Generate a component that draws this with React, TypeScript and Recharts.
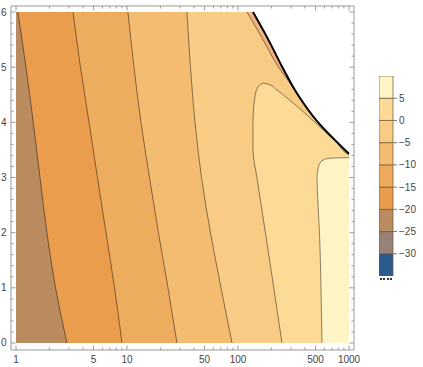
import React from 'react';
import { ComposedChart, Area, Line, Bar, XAxis, YAxis } from 'recharts';

// contour lines read as x(y), from the top (y = 6) to the bottom (y = 0)
const GRID_Y = [6, 5, 4, 3, 2, 1, 0];
const C_M20 = [1.04, 1.23, 1.43, 1.645, 1.9, 2.27, 2.88];
const C_M15 = [3.26, 3.81, 4.55, 5.42, 6.47, 7.72, 9.02];
const C_M10 = [10.2, 11.56, 13.37, 15.95, 19.2, 23.4, 28.2];
const C_M5 = [34.7, 37.3, 41.0, 46.9, 56.5, 70.3, 88.3];

// the 0 contour: left branch and the branch that runs along the edge
const C0_LEFT_Y = [4.713, 4.686, 4.64, 4.46, 4.0, 3.5, 3.0, 2.0, 1.0, 0];
const C0_LEFT_X = [168, 160, 151, 142, 136.5, 136.5, 148, 176.6, 210, 249];
const C0_RIGHT_Y = [4.713, 4.695, 4.586, 4.35, 4.133, 3.861, 3.625, 3.444, 3.41];
const C0_RIGHT_X = [168, 186, 224.5, 313, 418, 583, 780, 939, 1000];

// the 5 contour (cream patch, lower right)
const C5_Y = [3.36, 3.35, 3.32, 3.25, 3.1, 3.0, 2.5, 2.0, 1.0, 0];
const C5_X = [1000, 680, 590, 545, 520, 515, 526, 542, 559, 571];

// edge of the defined region and the thin contour just inside it
const EDGE_Y = [6, 5.5, 5, 4.5, 4, 3.75, 3.5, 3.43];
const EDGE_X = [136.5, 187.5, 251, 346, 526, 689, 920, 1000];
const INNER_Y = [6, 5.5, 5, 4.75, 4.5, 4, 3.75, 3.5, 3.43];
const INNER_X = [120.5, 168, 231.6, 285, 346, 526, 689, 920, 1000];

const X_LEFT = 1;
const X_RIGHT = 1000;
const X_DOMAIN = [0.9015, 1109];
const Y_DOMAIN = [-0.127, 6.109];

const X_LABELS = [1, 5, 10, 50, 100, 500, 1000];
const X_MINOR = [2, 3, 4, 6, 7, 8, 9, 20, 30, 40, 60, 70, 80, 90, 200, 300, 400, 600, 700, 800, 900];
const X_TICKS = [...X_LABELS, ...X_MINOR].sort((a, b) => a - b);
const Y_TICKS = Array.from({ length: 31 }, (_, i) => i / 5);

// colour bar
const CB_LEVELS = [-35, -30, -25, -20, -15, -10, -5, 0, 5, 10];
const CB_TICKS = [-30, -25, -20, -15, -10, -5, 0, 5];
const CB_COLORS = ['#2b5a8e', '#988177', '#b98b5e', '#e99c4c', '#eeab5e', '#f3bc70', '#f8cc83', '#fddb97', '#fff4c6'];

const BAND = {
  brown: '#b98b5e',
  m20: '#e99d4d',
  m15: '#eeac5f',
  m10: '#f3bc71',
  m5: '#f8cc84',
  p0: '#fddb97',
  p5: '#fff4c6',
  strip: '#f1b27f',
};

const FRAME = '#999';
const LABEL = '#444';
const FONT = '"Liberation Sans", Arial, sans-serif';

const pts = (ys: number[], xs: number[]) => ys.map((y, i) => ({ y, x: xs[i] }));
const fromGrid = (xs: number[]) => pts(GRID_Y, xs);
const withTail = (ys: number[], xs: number[]) => [...pts(ys, xs), { y: 0, x: X_RIGHT }];

const cbRow: Record<string, any> = { name: 'bar' };
CB_COLORS.forEach((_, i) => {
  cbRow[`s${i}`] = [CB_LEVELS[i], CB_LEVELS[i + 1]];
});
const CB_DATA = [cbRow];

const XTick = (props: any) => {
  const { x, y, payload, top } = props;
  const major = X_LABELS.includes(payload.value);
  const len = major ? 4.5 : 2.5;
  const dir = top ? 1 : -1;
  return (
    <g>
      <line x1={x} x2={x} y1={y} y2={y + dir * len} stroke={FRAME} strokeWidth={1} />
      {!top && major && (
        <text x={x} y={y + 12.5} textAnchor="middle" fontSize={10} fontFamily={FONT} fill={LABEL}>
          {payload.value}
        </text>
      )}
    </g>
  );
};

const YTick = (props: any) => {
  const { x, y, payload, right } = props;
  const major = Number.isInteger(payload.value);
  const len = major ? 4.5 : 2.5;
  const dir = right ? -1 : 1;
  return (
    <g>
      <line x1={x} x2={x + dir * len} y1={y} y2={y} stroke={FRAME} strokeWidth={1} />
      {!right && major && (
        <text x={x - 4.5} y={y + 3.5} textAnchor="end" fontSize={10} fontFamily={FONT} fill={LABEL}>
          {payload.value}
        </text>
      )}
    </g>
  );
};

const CbTick = (props: any) => {
  const { x, y, payload } = props;
  const v = payload.value;
  return (
    <g>
      <line x1={x} x2={x + 4} y1={y} y2={y} stroke="#777" strokeWidth={1} />
      <text x={x + 6} y={y + 3.5} fontSize={10} fontFamily={FONT} fill={LABEL}>
        {v < 0 ? `\u2212${Math.abs(v)}` : v}
      </text>
    </g>
  );
};

const fillArea = (key: string, data: any[], fill: string, base = X_LEFT) => (
  <Area
    key={key}
    data={data}
    dataKey="x"
    type="monotone"
    baseValue={base}
    fill={fill}
    fillOpacity={1}
    stroke="none"
    dot={false}
    activeDot={false}
    isAnimationActive={false}
  />
);

const contour = (key: string, data: any[], color = '#000', width = 1, opacity = 0.45) => (
  <Line
    key={key}
    data={data}
    dataKey="x"
    type="monotone"
    stroke={color}
    strokeOpacity={opacity}
    strokeWidth={width}
    dot={false}
    activeDot={false}
    isAnimationActive={false}
  />
);

export default function App() {
  return (
    <div style={{ position: 'absolute', left: 0, top: 0, width: 423, height: 367, background: '#fff' }}>
      <ComposedChart
        width={423}
        height={367}
        layout="vertical"
        margin={{ top: 0, right: 0, bottom: 0, left: 0 }}
      >
        <XAxis
          type="number"
          scale="log"
          domain={X_DOMAIN}
          allowDataOverflow
          ticks={X_TICKS}
          interval={0}
          height={17}
          tickSize={0}
          tickMargin={0}
          tickLine={false}
          axisLine={{ stroke: FRAME }}
          tick={(p: any) => <XTick {...p} />}
        />
        <XAxis
          xAxisId="top"
          orientation="top"
          type="number"
          scale="log"
          domain={X_DOMAIN}
          allowDataOverflow
          ticks={X_TICKS}
          interval={0}
          height={6}
          tickSize={0}
          tickMargin={0}
          tickLine={false}
          axisLine={{ stroke: FRAME }}
          tick={(p: any) => <XTick {...p} top />}
        />
        <YAxis
          type="number"
          dataKey="y"
          reversed
          domain={Y_DOMAIN}
          allowDataOverflow
          ticks={Y_TICKS}
          interval={0}
          width={11}
          tickSize={0}
          tickMargin={0}
          tickLine={false}
          axisLine={{ stroke: FRAME }}
          tick={(p: any) => <YTick {...p} />}
        />
        <YAxis
          yAxisId="right"
          orientation="right"
          type="number"
          dataKey="y"
          reversed
          domain={Y_DOMAIN}
          allowDataOverflow
          ticks={Y_TICKS}
          interval={0}
          width={69}
          tickSize={0}
          tickMargin={0}
          tickLine={false}
          axisLine={{ stroke: FRAME }}
          tick={(p: any) => <YTick {...p} right />}
        />

        {fillArea('edge', withTail(EDGE_Y, EDGE_X), BAND.strip)}
        {fillArea('inner', withTail(INNER_Y, INNER_X), BAND.m5)}
        {fillArea('c0r', withTail(C0_RIGHT_Y, C0_RIGHT_X), BAND.p0)}
        {fillArea('c0l', pts(C0_LEFT_Y, C0_LEFT_X), BAND.m5)}
        {fillArea('cm5', fromGrid(C_M5), BAND.m10)}
        {fillArea('cm10', fromGrid(C_M10), BAND.m15)}
        {fillArea('cm15', fromGrid(C_M15), BAND.m20)}
        {fillArea('cm20', fromGrid(C_M20), BAND.brown)}
        {fillArea('c5', pts(C5_Y, C5_X), BAND.p5, X_RIGHT)}

        {contour('l20', fromGrid(C_M20))}
        {contour('l15', fromGrid(C_M15))}
        {contour('l10', fromGrid(C_M10))}
        {contour('l5', fromGrid(C_M5))}
        {contour('l0l', pts(C0_LEFT_Y, C0_LEFT_X))}
        {contour('l0r', pts(C0_RIGHT_Y, C0_RIGHT_X))}
        {contour('lp5', pts(C5_Y, C5_X))}
        {contour('linner', pts(INNER_Y, INNER_X))}
        {contour('ledge', pts(EDGE_Y, EDGE_X), '#000', 2, 1)}
      </ComposedChart>

      <div style={{ position: 'absolute', left: 379, top: 76 }}>
        <ComposedChart
          width={54}
          height={200}
          data={CB_DATA}
          margin={{ top: 0, right: 0, bottom: 0, left: 0 }}
          barCategoryGap={0}
          barGap={0}
        >
          {CB_COLORS.map((_, i) => (
            <XAxis key={`ax${i}`} xAxisId={i} dataKey="name" type="category" hide />
          ))}
          <YAxis
            type="number"
            orientation="right"
            domain={[CB_LEVELS[0], CB_LEVELS[CB_LEVELS.length - 1]]}
            allowDataOverflow
            ticks={CB_TICKS}
            interval={0}
            width={40}
            tickSize={0}
            tickMargin={0}
            tickLine={false}
            axisLine={false}
            tick={(p: any) => <CbTick {...p} />}
          />
          {CB_COLORS.map((c, i) => (
            <Bar
              key={i}
              xAxisId={i}
              dataKey={`s${i}`}
              fill={c}
              stroke="#6b5535"
              strokeWidth={0.7}
              isAnimationActive={false}
            />
          ))}
        </ComposedChart>
        {/* small dotted marker under the bar */}
        <div style={{ position: 'absolute', left: 1, top: 202, width: 12, borderTop: '2px dotted #333' }} />
      </div>
    </div>
  );
}
